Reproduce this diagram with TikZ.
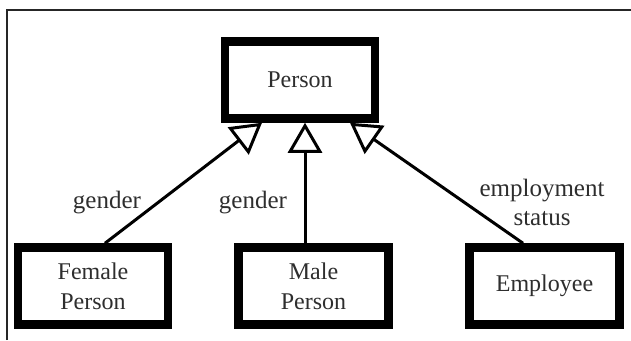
\documentclass[tikz,border=0pt]{standalone}
\usepackage{fontspec}
\setmainfont{Liberation Serif}
\usetikzlibrary{arrows.meta}
\definecolor{ink}{HTML}{2E2E2E}
\begin{document}
\begin{tikzpicture}[x=1pt,y=-1pt,
  classbox/.style={draw=black, line width=8.5pt, fill=white, minimum width=150pt,
    minimum height=77pt, inner sep=0pt, align=center, text=ink,
    font=\fontsize{24}{30}\selectfont},
  genarrow/.style={line width=3pt, -{Triangle[open, length=30pt, width=34pt, line width=3pt]}},
  rolelabel/.style={text=ink, inner sep=0pt, align=center,
    font=\fontsize{25}{29}\selectfont}]
  \useasboundingbox (0,0) rectangle (631,340);
  % frame
  \draw[line width=1.5pt, black!85] (7,340) -- (7,10) -- (631,10);

  % classes
  \node[classbox] (person) at (300,80) {Person};
  \node[classbox] (female) at (93,286) {Female\\Person};
  \node[classbox] (male) at (313.5,286) {Male\\Person};
  \node[classbox] (employee) at (544.5,286) {Employee};

  % generalisation arrows
  \draw[genarrow] ([xshift=12pt]female.north) -- ([xshift=-38pt]person.south);
  \draw[genarrow] ([xshift=-8.5pt]male.north) -- ([xshift=5pt]person.south);
  \draw[genarrow] ([xshift=-21.5pt]employee.north) -- ([xshift=50pt]person.south);

  % discriminator labels
  \node[rolelabel] (g1) at (107,203) {gender};
  \node[rolelabel] (g2) at (253,203) {gender};
  \node[rolelabel] (es) at (542,202) {employment\\status};
\end{tikzpicture}
\end{document}
